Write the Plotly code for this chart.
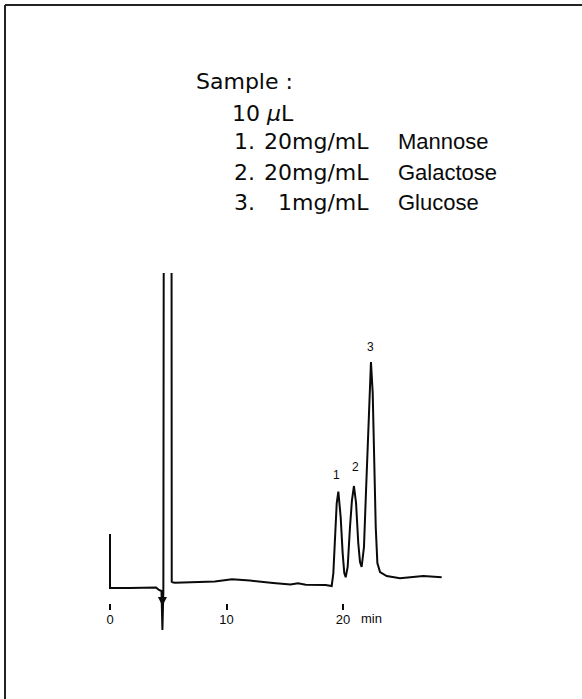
import plotly.graph_objects as go

# ---- data (time in min, detector response in arbitrary units) ----
time_min = [0.00, 0.00, 1.70, 3.95, 4.20, 4.42, 4.50, 4.58, 4.62, 5.28, 5.30, 5.36, 5.58,
            7.00, 9.00, 10.47, 12.00, 14.00, 15.50, 16.14, 16.80, 18.50, 19.03,
            19.17, 19.31, 19.46, 19.60, 19.80, 19.97, 20.11, 20.23,
            20.40, 20.60, 20.77, 20.94, 21.12, 21.31, 21.46, 21.60,
            21.80, 21.97, 22.15, 22.32, 22.40, 22.55, 22.66, 22.81, 22.95, 23.18,
            23.75, 24.89, 26.89, 28.47]
response = [54, 0, 0, 0.5, -2, -3, -42, -3, 420, 420, 6.3, 5.8, 5.3,
            5.5, 6.5, 8.7, 7.5, 5.0, 3.5, 4.7, 3.2, 3.0, 2.0,
            14.7, 54.7, 84.7, 96.3, 71, 35, 15, 10.7,
            21, 61, 88, 102, 85, 45, 26, 21,
            41, 95, 151, 208, 226, 195, 128, 61, 25, 16,
            12, 9.7, 12, 10.7]

peak_labels = ["1", "2", "3"]
peak_label_t = [19.46, 21.09, 22.40]
peak_label_s = [113, 121, 241]

tick_vals = [0, 10, 20]
tick_text = ["0", "10", "20"]
unit_label = "min"

sample_title = "Sample :"
sample_volume = "10 <i>μ</i>L"
item_numbers = ["1.", "2.", "3."]
item_conc = ["20mg/mL", "20mg/mL", "1mg/mL"]
item_names = ["Mannose", "Galactose", "Glucose"]

# ---- layout geometry (pixels) ----
W, H = 582, 699
PLOT_TOP, PLOT_BOTTOM = 273, 634
AXIS_Y = 610
PX_PER_MIN = 11.65
X0_PX = 110
S0_PX = 588

def xp(px):
    return px / W

def yp(py):
    return (PLOT_BOTTOM - py) / (PLOT_BOTTOM - PLOT_TOP)

FONT = "Liberation Sans, Arial, Helvetica, sans-serif"
FONT_W = "DejaVu Sans, Verdana, sans-serif"
INK = "#0a0a0a"

fig = go.Figure()
fig.add_trace(go.Scatter(x=time_min, y=response, mode="lines",
                         line=dict(color=INK, width=2),
                         hoverinfo="skip", showlegend=False))

for lab, t, s in zip(peak_labels, peak_label_t, peak_label_s):
    fig.add_annotation(x=t, y=s, text=lab, showarrow=False,
                       font=dict(family=FONT, size=12, color=INK),
                       xanchor="center", yanchor="middle")

# injection arrow head
fig.add_annotation(x=4.50, y=S0_PX - 606, ax=0, ay=-14, axref="pixel", ayref="pixel",
                   text="", showarrow=True, arrowhead=2, arrowsize=1.2, arrowwidth=1.5,
                   arrowcolor=INK)

# unit label next to last tick label
fig.add_annotation(x=(371.7 - X0_PX) / PX_PER_MIN, xref="x", y=yp(618), yref="paper",
                   text=unit_label, showarrow=False,
                   font=dict(family=FONT, size=13, color=INK),
                   xanchor="center", yanchor="middle")

# sample description text block
txt_font = dict(family=FONT_W, size=22, color=INK)
name_font = dict(family=FONT, size=22, color=INK)
fig.add_annotation(x=xp(194), y=yp(82), xref="paper", yref="paper", text=sample_title,
                   showarrow=False, font=txt_font, xanchor="left", yanchor="middle")
fig.add_annotation(x=xp(230), y=yp(113), xref="paper", yref="paper", text=sample_volume,
                   showarrow=False, font=txt_font, xanchor="left", yanchor="middle")
line_y = [142, 172, 202]
for num, conc, name, ly in zip(item_numbers, item_conc, item_names, line_y):
    fig.add_annotation(x=xp(232), y=yp(ly), xref="paper", yref="paper", text=num,
                       showarrow=False, font=txt_font, xanchor="left", yanchor="middle")
    fig.add_annotation(x=xp(371), y=yp(ly), xref="paper", yref="paper", text=conc,
                       showarrow=False, font=txt_font, xanchor="right", yanchor="middle")
    fig.add_annotation(x=xp(396), y=yp(ly), xref="paper", yref="paper", text=name,
                       showarrow=False, font=name_font, xanchor="left", yanchor="middle")

# page frame (top and left edges visible)
fig.add_shape(type="line", xref="paper", yref="paper", x0=xp(5), x1=xp(W + 5),
              y0=yp(5), y1=yp(5), line=dict(color="#222", width=2))
fig.add_shape(type="line", xref="paper", yref="paper", x0=xp(5), x1=xp(5),
              y0=yp(5), y1=yp(H + 5), line=dict(color="#222", width=2))

x_lo = -X0_PX / PX_PER_MIN
x_hi = (W - X0_PX) / PX_PER_MIN
fig.update_layout(
    width=W, height=H,
    margin=dict(l=0, r=0, t=PLOT_TOP, b=H - PLOT_BOTTOM, pad=0),
    paper_bgcolor="white", plot_bgcolor="white",
    xaxis=dict(range=[x_lo, x_hi], tickvals=tick_vals, ticktext=tick_text,
               anchor="free", position=yp(AXIS_Y),
               ticks="inside", ticklen=6, tickwidth=1.5, tickcolor=INK,
               showgrid=False, zeroline=False, showline=False,
               tickfont=dict(family=FONT, size=13, color=INK), fixedrange=True),
    yaxis=dict(range=[S0_PX - PLOT_BOTTOM, S0_PX - PLOT_TOP], visible=False,
               fixedrange=True),
    showlegend=False,
)

fig.write_html("out.html", config={"displayModeBar": False},
               post_script="document.body.style.margin='0';")
